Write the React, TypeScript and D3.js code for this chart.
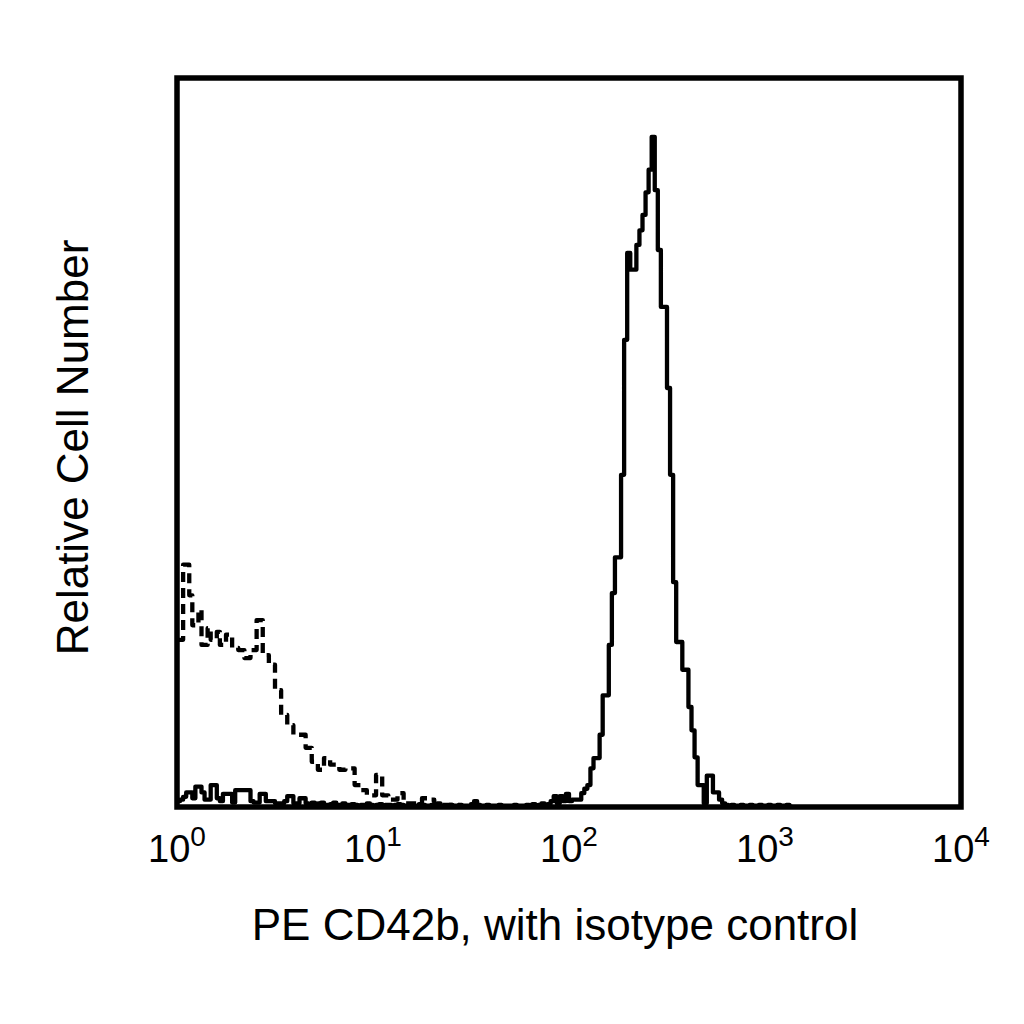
import React from 'react';
import * as d3 from 'd3';

// Histogram channels: 256 channels spread over 4 log decades (10^0 .. 10^4)
const channelCount = 256;
const decades = 4;

// Relative cell number per channel (0..100 = full plot height)
const isotypeCounts = [
  22.9, 22.9, 33.2, 33.2, 29.0, 24.9, 24.9, 27.0, 22.2, 22.2,
  24.5, 22.9, 22.9, 24.0, 22.2, 22.2, 23.6, 23.6, 21.8, 21.8,
  21.5, 21.5, 20.4, 20.4, 21.5, 21.5, 25.6, 25.6, 20.8, 20.8,
  19.5, 19.5, 16.0, 16.0, 12.6, 12.6, 11.2, 11.2, 9.9, 9.9,
  9.9, 9.9, 8.1, 8.1, 6.2, 6.2, 5.1, 5.1, 6.7, 6.7,
  5.8, 5.8, 5.8, 5.1, 5.1, 5.3, 5.3, 5.3, 3.0, 3.0,
  2.3, 2.3, 1.6, 1.6, 1.6, 4.4, 4.4, 1.6, 1.6, 1.0,
  1.0, 1.0, 1.9, 1.9, 0.5, 0.5, 0.5, 0.5, 0.5, 0.5,
  1.2, 1.2, 1.0, 1.0, 0.3, 0.3, 0.3, 0.3, 0.3, 0.3,
  0.3, 0.3, 0,
];

const stainedCounts = [
  0.8, 1.0, 1.4, 2.0, 2.0, 1.2, 2.8, 2.8, 2.0, 1.0,
  1.0, 3.0, 3.0, 1.2, 0.8, 1.8, 1.8, 1.8, 0.6, 2.3,
  2.3, 2.3, 2.3, 2.3, 0.8, 0.6, 0.6, 1.8, 1.8, 0.8,
  0.8, 0.8, 0.5, 0.5, 0.5, 0.8, 1.5, 1.5, 0.5, 0.5,
  1.2, 1.2, 0.5, 0.4, 0.6, 0.3, 0.5, 0.6, 0.3, 0.3,
  0.4, 0.6, 0.3, 0.3, 0.5, 0.3, 0.3, 0.4, 0.3, 0.2,
  0.3, 0.3, 0.5, 0.3, 0.2, 0.3, 0.4, 0.2, 0.3, 0.3,
  0.2, 0.3, 0.4, 0.3, 0.2, 0.2, 0.3, 0.2, 0.2, 0.4,
  0.3, 0.2, 0.2, 0.3, 0.2, 0.5, 0.2, 0.2, 0.2, 0.3,
  0.2, 0.2, 0.3, 0.2, 0.2, 0.2, 0.4, 0.8, 0.3, 0.2,
  0.2, 0.3, 0.2, 0.2, 0.2, 0.3, 0.2, 0.2, 0.2, 0.2,
  0.3, 0.2, 0.2, 0.2, 0.3, 0.2, 0.4, 0.2, 0.3, 0.5,
  0.3, 0.4, 0.8, 1.5, 0.5, 1.5, 0.8, 1.8, 0.8, 1.0,
  1.0, 1.0, 1.9, 2.5, 3.0, 5.3, 6.7, 6.7, 9.9, 15.3,
  15.3, 22.2, 29.3, 34.2, 34.2, 45.5, 64.0, 75.9, 73.6, 73.6,
  77.0, 79.0, 81.1, 84.2, 87.3, 91.8, 84.5, 76.3, 68.5, 68.5,
  57.4, 45.5, 30.8, 22.6, 22.6, 18.8, 18.8, 13.7, 10.5, 6.8,
  3.0, 3.0, 0.5, 4.3, 4.3, 2.0, 2.0, 1.0, 0.5, 0.3,
  0.2, 0.3, 0.2, 0.2, 0.3, 0.2, 0.2, 0.3, 0.2, 0.2,
  0.3, 0.2, 0.2, 0.3, 0.2, 0.2, 0.3, 0.2, 0.2, 0.3,
  0,
];

const tickExponents = [0, 1, 2, 3, 4];
const xTitle = 'PE CD42b, with isotype control';
const yTitle = 'Relative Cell Number';

const width = 1024;
const height = 1024;
const plot = { left: 177, right: 961, top: 78, bottom: 807 };
const font = '"Liberation Sans", Arial, sans-serif';

const App: React.FC = () => {
  const xScale = d3
    .scaleLog()
    .domain([1, Math.pow(10, decades)])
    .range([plot.left, plot.right]);
  const yScale = d3.scaleLinear().domain([0, 100]).range([plot.bottom, plot.bottom - 730]);

  const chToValue = (ch: number) => Math.pow(10, (ch * decades) / channelCount);

  const histLine = d3
    .line<[number, number]>()
    .x(d => xScale(chToValue(d[0])))
    .y(d => yScale(d[1]))
    .curve(d3.curveStepAfter);

  const toPoints = (counts: number[]): [number, number][] => {
    const pts = counts.map((c, i) => [i, c] as [number, number]);
    pts.push([counts.length, 0]);
    return pts;
  };

  return (
    <svg
      width={width}
      height={height}
      style={{ position: 'absolute', left: 0, top: 0, background: '#fff' }}
    >
      <rect width={width} height={height} fill="#fff" />
      <defs>
        <clipPath id="plot-clip">
          <rect
            x={plot.left}
            y={plot.top}
            width={plot.right - plot.left}
            height={plot.bottom - plot.top}
          />
        </clipPath>
      </defs>

      <g clipPath="url(#plot-clip)">
        <path
          d={histLine(toPoints(isotypeCounts)) || ''}
          fill="none"
          stroke="#000"
          strokeWidth={4.3}
          strokeDasharray="10 6"
          strokeLinejoin="round"
        />
        <path
          d={histLine(toPoints(stainedCounts)) || ''}
          fill="none"
          stroke="#000"
          strokeWidth={4.3}
          strokeLinejoin="round"
        />
      </g>

      {/* frame */}
      <rect
        x={plot.left}
        y={plot.top}
        width={plot.right - plot.left}
        height={plot.bottom - plot.top}
        fill="none"
        stroke="#000"
        strokeWidth={5.5}
      />

      {/* x tick labels */}
      {tickExponents.map(e => (
        <text
          key={e}
          x={xScale(Math.pow(10, e))}
          y={862}
          textAnchor="middle"
          fontFamily={font}
          fontSize={38}
          fill="#000"
        >
          <tspan>10</tspan>
          <tspan dy={-16} fontSize={28}>
            {e}
          </tspan>
        </text>
      ))}

      <text
        x={555}
        y={940}
        textAnchor="middle"
        fontFamily={font}
        fontSize={44}
        fill="#000"
      >
        {xTitle}
      </text>

      <text
        transform={`translate(88, ${(plot.top + plot.bottom) / 2 + 5}) rotate(-90)`}
        textAnchor="middle"
        fontFamily={font}
        fontSize={44}
        fill="#000"
      >
        {yTitle}
      </text>
    </svg>
  );
};

export default App;
